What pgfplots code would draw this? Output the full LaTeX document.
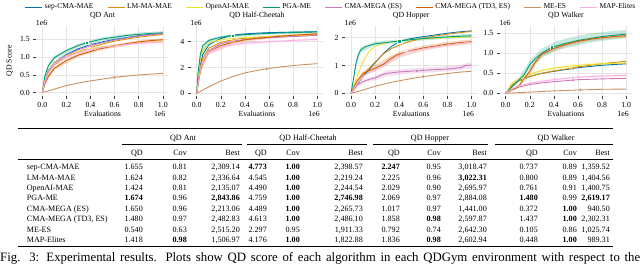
\documentclass[border=0pt]{standalone}
\usepackage{pgfplots}
\pgfplotsset{compat=1.18}
\usepackage{fontspec}
\setmainfont{Liberation Serif}
\newcommand\fs{\fontsize{7.8}{9}\selectfont}
\newcommand\lfs{\fontsize{7.5}{9}\selectfont}
\newcommand\tfs{\fontsize{8.1}{9}\selectfont}
\definecolor{cSep}{HTML}{0173B2}
\definecolor{cLM}{HTML}{DE8F05}
\definecolor{cOAI}{HTML}{ECE133}
\definecolor{cPGA}{HTML}{029E73}
\definecolor{cCME}{HTML}{CC78BC}
\definecolor{cTD3}{HTML}{D55E00}
\definecolor{cMEES}{HTML}{CA9161}
\definecolor{cMAP}{HTML}{FBAFE4}
\pgfplotsset{
 qd/.style={
  scale only axis, width=132.5pt, height=70pt, anchor=south west,
  xmin=-0.05, xmax=1.05, clip mode=individual,
  xtick={0,0.2,0.4,0.6,0.8,1}, xticklabels={0.0,0.2,0.4,0.6,0.8,1.0},
  scaled ticks=false,
  grid=major, grid style={color=black!10, line width=0.5pt},
  axis line style={draw=none},
  tick style={color=black!75, line width=0.5pt},
  tick align=outside, major tick length=3pt,
  xtick pos=left, ytick pos=left,
  tick label style={font=\fs},
  xlabel={Evaluations},
  xlabel style={font=\fs, at={(axis description cs:0.5,-0.26)}, anchor=center},
  title style={font=\fs, at={(axis description cs:0.5,1)}, anchor=base, yshift=2pt},
  every axis plot/.append style={line width=0.9pt, mark size=1.7pt},
 },
 sSep/.style={color=cSep, mark=*, mark options={fill=cSep, draw=white, line width=0.3pt}},
 sLM/.style={color=cLM, mark=diamond*, mark options={fill=cLM, draw=white, line width=0.3pt}},
 sOAI/.style={color=cOAI, mark=triangle*, mark options={fill=cOAI, draw=white, line width=0.3pt}},
 sPGA/.style={color=cPGA, mark=square*, mark options={fill=cPGA, draw=white, line width=0.3pt}},
 sCME/.style={color=cCME, mark=pentagon*, mark options={fill=cCME, draw=white, line width=0.3pt}},
 sTD3/.style={color=cTD3, mark=triangle*, mark options={fill=cTD3, draw=white, line width=0.3pt, rotate=180}},
 sMEES/.style={color=cMEES, mark=pentagon*, mark options={fill=cMEES, draw=white, line width=0.3pt, rotate=180}},
 sMAP/.style={color=cMAP, mark=*, mark options={fill=cMAP, draw=white, line width=0.3pt}},
 band/.style={draw=none, fill=#1, fill opacity=0.22, forget plot},
}
\newcommand{\tl}[2]{\node[anchor=base west] at (26.7pt,{264pt-#1pt}) {#2};}
\newcommand{\tc}[3]{\node[anchor=base east] at (#2pt,{264pt-#1pt}) {#3};}
\newcommand{\trowA}[8]{\tl{#1}{#2}\tc{#1}{143}{#3}\tc{#1}{187}{#4}\tc{#1}{240}{#5}\tc{#1}{267}{#6}\tc{#1}{300}{#7}\tc{#1}{363}{#8}}
\newcommand{\trowB}[7]{\tc{#1}{400}{#2}\tc{#1}{441}{#3}\tc{#1}{487}{#4}\tc{#1}{538}{#5}\tc{#1}{577}{#6}\tc{#1}{610}{#7}}
\newcommand{\hrl}[2]{\draw[line width=#2] (18pt,{264pt-#1pt}) -- (613pt,{264pt-#1pt});}
\newcommand{\crl}[3]{\draw[line width=0.45pt] (#2pt,{264pt-#1pt}) -- (#3pt,{264pt-#1pt});}
\begin{document}
\begin{tikzpicture}
\useasboundingbox (0,0) rectangle (640pt,264pt);

% ---------------- QD Ant
\begin{axis}[qd, at={(36.3pt,168pt)}, ymin=-0.092, ymax=1.863,
  ytick={0,0.5,1,1.5}, yticklabels={0.0,0.5,1.0,1.5},
  title={QD Ant}, ylabel={QD Score},
  ylabel style={font=\fs, at={(axis description cs:-0.2,0.5)}, anchor=center},
  legend columns=8,
  legend style={at={(axis description cs:2.225,1.271)}, anchor=center, draw=none, fill=none, font=\lfs, inner sep=0pt,
    /tikz/every even column/.append style={column sep=11.5pt}},
  legend cell align=left]
\addplot[band=cPGA] coordinates {(0,0)(0.05,0.8)(0.1,1.03)(0.3,1.37)(0.5,1.55)(0.8,1.68)(1.0,1.72)(1.0,1.63)(0.8,1.58)(0.5,1.45)(0.3,1.27)(0.1,0.93)(0.05,0.7)(0,0)} -- cycle;
\addplot[band=cMAP] coordinates {(0,0)(0.05,0.6)(0.1,0.85)(0.3,1.17)(0.5,1.32)(0.8,1.43)(1.0,1.47)(1.0,1.37)(0.8,1.33)(0.5,1.22)(0.3,1.07)(0.1,0.75)(0.05,0.5)(0,0)} -- cycle;
\addplot[band=cTD3] coordinates {(0,0)(0.05,0.5)(0.1,0.73)(0.3,1.1)(0.5,1.29)(0.8,1.46)(1.0,1.52)(1.0,1.44)(0.8,1.38)(0.5,1.2)(0.3,1.0)(0.1,0.63)(0.05,0.4)(0,0)} -- cycle;
\addplot[sSep, mark indices={7}] coordinates {(0,0)(0.02,0.35)(0.05,0.62)(0.1,0.85)(0.2,1.07)(0.3,1.23)(0.41,1.35)(0.5,1.42)(0.6,1.49)(0.7,1.54)(0.8,1.59)(0.9,1.63)(1.0,1.655)};
\addplot[sLM, mark indices={7}] coordinates {(0,0)(0.02,0.3)(0.05,0.55)(0.1,0.78)(0.2,1.0)(0.3,1.15)(0.43,1.29)(0.5,1.36)(0.6,1.44)(0.7,1.5)(0.8,1.55)(0.9,1.59)(1.0,1.624)};
\addplot[sOAI, mark indices={7}] coordinates {(0,0)(0.02,0.35)(0.05,0.6)(0.1,0.85)(0.2,1.05)(0.3,1.15)(0.4,1.23)(0.5,1.28)(0.6,1.32)(0.7,1.36)(0.8,1.39)(0.9,1.41)(1.0,1.424)};
\addplot[sPGA, mark indices={7}] coordinates {(0,0)(0.02,0.45)(0.05,0.75)(0.1,0.98)(0.2,1.18)(0.3,1.32)(0.37,1.40)(0.5,1.50)(0.6,1.55)(0.7,1.60)(0.8,1.63)(0.9,1.655)(1.0,1.674)};
\addplot[sCME, mark indices={7}] coordinates {(0,0)(0.02,0.32)(0.05,0.58)(0.1,0.82)(0.2,1.05)(0.3,1.2)(0.4,1.31)(0.5,1.4)(0.6,1.47)(0.7,1.53)(0.8,1.58)(0.9,1.62)(1.0,1.65)};
\addplot[sTD3, mark indices={7}] coordinates {(0,0)(0.02,0.25)(0.05,0.45)(0.1,0.68)(0.2,0.9)(0.3,1.05)(0.45,1.2)(0.5,1.24)(0.6,1.31)(0.7,1.37)(0.8,1.42)(0.9,1.455)(1.0,1.48)};
\addplot[sMEES, mark indices={7}] coordinates {(0,0)(0.1,0.1)(0.2,0.2)(0.3,0.27)(0.4,0.33)(0.5,0.38)(0.6,0.43)(0.7,0.465)(0.8,0.495)(0.9,0.52)(1.0,0.54)};
\addplot[sMAP, mark indices={7}] coordinates {(0,0)(0.02,0.3)(0.05,0.55)(0.1,0.8)(0.2,1.0)(0.3,1.12)(0.38,1.2)(0.5,1.27)(0.6,1.31)(0.7,1.35)(0.8,1.38)(0.9,1.40)(1.0,1.418)};
\legend{sep-CMA-MAE, LM-MA-MAE, OpenAI-MAE, PGA-ME, CMA-MEGA (ES), {CMA-MEGA (TD3, ES)}, ME-ES, MAP-Elites}
\node[font=\fs, anchor=base] at (axis description cs:0.04,1) {1e6};
\node[font=\fs, anchor=base east] at (axis description cs:1,-0.293) {1e6};
\end{axis}

% ---------------- QD Half-Cheetah
\begin{axis}[qd, at={(190.7pt,168pt)}, ymin=-0.209, ymax=5.217,
  ytick={0,2,4}, yticklabels={0,2,4}, title={QD Half-Cheetah}]
\addplot[band=cPGA] coordinates {(0,0)(0.03,3.3)(0.1,4.25)(0.3,4.6)(0.6,4.75)(1.0,4.85)(1.0,4.67)(0.6,4.55)(0.3,4.36)(0.1,3.95)(0.03,2.7)(0,0)} -- cycle;
\addplot[band=cTD3] coordinates {(0,0)(0.03,1.9)(0.1,3.4)(0.3,4.1)(0.6,4.45)(1.0,4.7)(1.0,4.52)(0.6,4.25)(0.3,3.8)(0.1,3.0)(0.03,1.5)(0,0)} -- cycle;
\addplot[band=cMAP] coordinates {(0,0)(0.03,2.0)(0.1,3.35)(0.3,3.9)(0.6,4.1)(1.0,4.26)(1.0,4.09)(0.6,3.9)(0.3,3.66)(0.1,3.05)(0.03,1.6)(0,0)} -- cycle;
\addplot[sSep, mark indices={7}] coordinates {(0,0)(0.01,0.9)(0.03,2.2)(0.05,3.0)(0.1,3.75)(0.2,4.25)(0.29,4.5)(0.4,4.6)(0.5,4.66)(0.6,4.7)(0.8,4.74)(1.0,4.773)};
\addplot[sLM, mark indices={7}] coordinates {(0,0)(0.01,0.8)(0.03,2.0)(0.05,2.7)(0.1,3.5)(0.2,3.95)(0.31,4.17)(0.4,4.27)(0.5,4.34)(0.6,4.4)(0.8,4.48)(1.0,4.545)};
\addplot[sOAI, mark indices={7}] coordinates {(0,0)(0.01,1.2)(0.03,2.7)(0.05,3.3)(0.1,3.9)(0.2,4.15)(0.28,4.24)(0.4,4.32)(0.5,4.36)(0.6,4.4)(0.8,4.45)(1.0,4.49)};
\addplot[sPGA, mark indices={7}] coordinates {(0,0)(0.01,1.5)(0.03,3.0)(0.05,3.7)(0.1,4.1)(0.2,4.35)(0.3,4.48)(0.4,4.55)(0.5,4.6)(0.6,4.65)(0.8,4.71)(1.0,4.759)};
\addplot[sCME, mark indices={7}] coordinates {(0,0)(0.01,0.7)(0.03,1.8)(0.05,2.5)(0.1,3.3)(0.2,3.85)(0.33,4.08)(0.4,4.17)(0.5,4.24)(0.6,4.3)(0.8,4.4)(1.0,4.489)};
\addplot[sTD3, mark indices={7}] coordinates {(0,0)(0.01,0.6)(0.03,1.7)(0.05,2.4)(0.1,3.2)(0.2,3.7)(0.3,3.95)(0.4,4.15)(0.5,4.26)(0.6,4.35)(0.8,4.5)(1.0,4.613)};
\addplot[sMEES, mark indices={7}] coordinates {(0,0)(0.1,0.5)(0.2,0.95)(0.3,1.3)(0.4,1.58)(0.5,1.77)(0.58,1.9)(0.7,2.05)(0.8,2.15)(0.9,2.23)(1.0,2.297)};
\addplot[sMAP, mark indices={7}] coordinates {(0,0)(0.01,0.7)(0.03,1.8)(0.05,2.5)(0.1,3.2)(0.2,3.6)(0.34,3.82)(0.4,3.88)(0.5,3.95)(0.6,4.0)(0.8,4.1)(1.0,4.176)};
\node[font=\fs, anchor=base] at (axis description cs:0.04,1) {1e6};
\node[font=\fs, anchor=base east] at (axis description cs:1,-0.293) {1e6};
\end{axis}

% ---------------- QD Hopper
\begin{axis}[qd, at={(345pt,168pt)}, ymin=-0.097, ymax=2.421,
  ytick={0,1,2}, yticklabels={0,1,2}, title={QD Hopper}]
\addplot[band=cCME] coordinates {(0,0)(0.1,0.48)(0.2,0.63)(0.3,0.82)(0.5,0.9)(0.7,0.95)(0.9,1.02)(1.0,1.12)(1.0,0.9)(0.9,0.83)(0.7,0.76)(0.5,0.71)(0.3,0.62)(0.2,0.47)(0.1,0.36)(0,0)} -- cycle;
\addplot[band=cTD3] coordinates {(0,0)(0.1,0.8)(0.2,1.02)(0.3,1.28)(0.4,1.5)(0.6,1.72)(0.8,1.85)(1.0,1.94)(1.0,1.77)(0.8,1.68)(0.6,1.54)(0.4,1.28)(0.3,1.02)(0.2,0.78)(0.1,0.64)(0,0)} -- cycle;
\addplot[band=cPGA] coordinates {(0,0)(0.04,1.2)(0.08,1.65)(0.2,1.86)(0.4,1.94)(0.6,2.04)(0.8,2.1)(1.0,2.14)(1.0,2.0)(0.8,1.96)(0.6,1.9)(0.4,1.82)(0.2,1.74)(0.08,1.45)(0.04,0.95)(0,0)} -- cycle;
\addplot[sSep, mark indices={8}] coordinates {(0,0)(0.05,0.3)(0.1,0.6)(0.15,0.85)(0.2,1.1)(0.27,1.44)(0.34,1.7)(0.41,1.88)(0.5,1.97)(0.6,2.04)(0.7,2.1)(0.8,2.16)(0.9,2.21)(1.0,2.247)};
\addplot[sLM, mark indices={8}] coordinates {(0,0)(0.05,0.35)(0.1,0.65)(0.15,0.9)(0.2,1.12)(0.27,1.42)(0.34,1.62)(0.42,1.77)(0.5,1.88)(0.6,1.98)(0.7,2.06)(0.8,2.13)(0.9,2.18)(1.0,2.225)};
\addplot[sOAI, mark indices={7}] coordinates {(0,0)(0.05,0.6)(0.1,1.15)(0.15,1.5)(0.2,1.7)(0.3,1.82)(0.38,1.87)(0.5,1.93)(0.6,1.96)(0.7,1.98)(0.8,2.0)(0.9,2.015)(1.0,2.029)};
\addplot[sPGA, mark indices={9}] coordinates {(0,0)(0.02,0.5)(0.04,1.05)(0.06,1.38)(0.08,1.56)(0.12,1.68)(0.2,1.78)(0.3,1.83)(0.4,1.88)(0.5,1.93)(0.6,1.97)(0.8,2.03)(1.0,2.069)};
\addplot[sCME, mark indices={9}] coordinates {(0,0)(0.05,0.3)(0.1,0.42)(0.15,0.5)(0.2,0.55)(0.25,0.66)(0.3,0.72)(0.4,0.77)(0.55,0.81)(0.65,0.84)(0.75,0.86)(0.85,0.89)(0.92,0.93)(0.95,1.0)(1.0,1.017)};
\addplot[sTD3, mark indices={9}] coordinates {(0,0)(0.05,0.45)(0.1,0.72)(0.15,0.82)(0.2,0.9)(0.27,1.05)(0.33,1.25)(0.38,1.38)(0.48,1.52)(0.6,1.63)(0.7,1.7)(0.8,1.77)(0.9,1.82)(1.0,1.858)};
\addplot[sMEES, mark indices={7}] coordinates {(0,0)(0.1,0.12)(0.2,0.25)(0.3,0.36)(0.4,0.45)(0.5,0.53)(0.6,0.6)(0.7,0.66)(0.8,0.71)(0.9,0.76)(1.0,0.792)};
\addplot[sMAP, mark indices={9}] coordinates {(0,0)(0.05,0.35)(0.1,0.6)(0.15,0.75)(0.2,0.85)(0.27,1.0)(0.33,1.2)(0.38,1.32)(0.46,1.48)(0.6,1.6)(0.7,1.67)(0.8,1.73)(0.9,1.79)(1.0,1.836)};
\node[font=\fs, anchor=base] at (axis description cs:0.04,1) {1e6};
\node[font=\fs, anchor=base east] at (axis description cs:1,-0.293) {1e6};
\end{axis}

% ---------------- QD Walker
\begin{axis}[qd, at={(499.7pt,168pt)}, ymin=-0.0675, ymax=1.6825,
  ytick={0,0.5,1,1.5}, yticklabels={0.0,0.5,1.0,1.5}, title={QD Walker}]
\addplot[band=cPGA] coordinates {(0,0)(0.1,0.34)(0.2,0.82)(0.3,1.12)(0.4,1.28)(0.5,1.37)(0.6,1.44)(0.7,1.49)(0.8,1.53)(0.9,1.56)(1.0,1.58)(1.0,1.38)(0.9,1.35)(0.8,1.31)(0.7,1.26)(0.6,1.2)(0.5,1.13)(0.4,1.05)(0.3,0.88)(0.2,0.62)(0.1,0.26)(0,0)} -- cycle;
\addplot[band=cTD3] coordinates {(0,0)(0.1,0.18)(0.2,0.62)(0.3,1.04)(0.5,1.27)(0.7,1.39)(1.0,1.48)(1.0,1.39)(0.7,1.31)(0.5,1.17)(0.3,0.92)(0.2,0.48)(0.1,0.12)(0,0)} -- cycle;
\addplot[band=cOAI] coordinates {(0,0)(0.1,0.38)(0.3,0.6)(0.5,0.71)(0.7,0.76)(1.0,0.8)(1.0,0.72)(0.7,0.68)(0.5,0.63)(0.3,0.54)(0.1,0.32)(0,0)} -- cycle;
\addplot[band=cMAP] coordinates {(0,0)(0.1,0.2)(0.3,0.33)(0.5,0.41)(0.7,0.45)(1.0,0.48)(1.0,0.42)(0.7,0.39)(0.5,0.35)(0.3,0.27)(0.1,0.16)(0,0)} -- cycle;
\addplot[sSep, mark indices={7}] coordinates {(0,0)(0.05,0.2)(0.1,0.3)(0.2,0.42)(0.3,0.5)(0.4,0.55)(0.56,0.62)(0.6,0.64)(0.7,0.67)(0.8,0.7)(0.9,0.72)(1.0,0.737)};
\addplot[sLM, mark indices={7}] coordinates {(0,0)(0.05,0.2)(0.1,0.3)(0.2,0.42)(0.3,0.5)(0.4,0.56)(0.55,0.63)(0.6,0.66)(0.7,0.7)(0.8,0.74)(0.9,0.77)(1.0,0.8)};
\addplot[sOAI, mark indices={7}] coordinates {(0,0)(0.05,0.25)(0.1,0.35)(0.2,0.48)(0.3,0.57)(0.4,0.63)(0.54,0.68)(0.6,0.7)(0.7,0.72)(0.8,0.74)(0.9,0.75)(1.0,0.761)};
\addplot[sPGA, mark indices={8}] coordinates {(0,0)(0.05,0.15)(0.1,0.3)(0.15,0.45)(0.2,0.72)(0.25,0.88)(0.3,1.0)(0.38,1.15)(0.5,1.25)(0.6,1.32)(0.7,1.37)(0.8,1.42)(0.9,1.45)(1.0,1.48)};
\addplot[sCME, mark indices={7}] coordinates {(0,0)(0.05,0.1)(0.1,0.15)(0.2,0.22)(0.3,0.26)(0.4,0.29)(0.56,0.33)(0.6,0.34)(0.7,0.35)(0.8,0.36)(0.9,0.368)(1.0,0.372)};
\addplot[sTD3, mark indices={4}] coordinates {(0,0)(0.05,0.08)(0.1,0.15)(0.15,0.35)(0.2,0.55)(0.25,0.8)(0.3,0.98)(0.4,1.12)(0.5,1.22)(0.6,1.3)(0.7,1.35)(0.8,1.39)(0.9,1.42)(1.0,1.437)};
\addplot[sMEES, mark indices={4}] coordinates {(0,0)(0.2,0.03)(0.4,0.06)(0.62,0.085)(0.8,0.1)(1.0,0.105)};
\addplot[sMAP, mark indices={7}] coordinates {(0,0)(0.05,0.1)(0.1,0.18)(0.2,0.25)(0.3,0.3)(0.4,0.34)(0.56,0.39)(0.6,0.4)(0.7,0.42)(0.8,0.43)(0.9,0.44)(1.0,0.448)};
\node[font=\fs, anchor=base] at (axis description cs:0.04,1) {1e6};
\node[font=\fs, anchor=base east] at (axis description cs:1,-0.293) {1e6};
\end{axis}

% ---------------- table
\hrl{128.3}{0.9pt}
\crl{144.3}{122}{242}\crl{144.3}{247}{367}\crl{144.3}{373}{488}\crl{144.3}{495}{613}
\hrl{159.7}{0.55pt}
\hrl{246.3}{0.9pt}
\begin{scope}[every node/.style={inner sep=0pt, font=\tfs}]
\node[anchor=base] at (183pt,{264pt-140.2pt}) {QD Ant};
\node[anchor=base] at (308pt,{264pt-140.2pt}) {QD Half-Cheetah};
\node[anchor=base] at (430pt,{264pt-140.2pt}) {QD Hopper};
\node[anchor=base] at (556pt,{264pt-140.2pt}) {QD Walker};
\trowA{155.8}{}{QD}{Cov}{Best}{QD}{Cov}{Best}
\trowB{155.8}{QD}{Cov}{Best}{QD}{Cov}{Best}
\trowA{169.8}{sep-CMA-MAE}{1.655}{0.81}{2,309.14}{\textbf{4.773}}{\textbf{1.00}}{2,398.57}
\trowB{169.8}{\textbf{2.247}}{0.95}{3,018.47}{0.737}{0.89}{1,359.52}
\trowA{180.2}{LM-MA-MAE}{1.624}{0.82}{2,336.64}{4.545}{\textbf{1.00}}{2,219.24}
\trowB{180.2}{2.225}{0.96}{\textbf{3,022.31}}{0.800}{0.89}{1,404.56}
\trowA{190.6}{OpenAI-MAE}{1.424}{0.81}{2,135.07}{4.490}{\textbf{1.00}}{2,244.54}
\trowB{190.6}{2.029}{0.90}{2,695.97}{0.761}{0.91}{1,400.75}
\trowA{201.0}{PGA-ME}{\textbf{1.674}}{0.96}{\textbf{2,843.86}}{4.759}{\textbf{1.00}}{\textbf{2,746.98}}
\trowB{201.0}{2.069}{0.97}{2,884.08}{\textbf{1.480}}{0.99}{\textbf{2,619.17}}
\trowA{211.4}{CMA-MEGA (ES)}{1.650}{0.96}{2,213.06}{4.489}{\textbf{1.00}}{2,265.73}
\trowB{211.4}{1.017}{0.97}{1,441.00}{0.372}{\textbf{1.00}}{940.50}
\trowA{221.8}{CMA-MEGA (TD3, ES)}{1.480}{0.97}{2,482.83}{4.613}{\textbf{1.00}}{2,486.10}
\trowB{221.8}{1.858}{\textbf{0.98}}{2,597.87}{1.437}{\textbf{1.00}}{2,302.31}
\trowA{232.2}{ME-ES}{0.540}{0.63}{2,515.20}{2.297}{0.95}{1,911.33}
\trowB{232.2}{0.792}{0.74}{2,642.30}{0.105}{0.86}{1,025.74}
\trowA{242.6}{MAP-Elites}{1.418}{\textbf{0.98}}{1,506.97}{4.176}{\textbf{1.00}}{1,822.88}
\trowB{242.6}{1.836}{\textbf{0.98}}{2,602.94}{0.448}{\textbf{1.00}}{989.31}
\end{scope}
\node[anchor=base west, inner sep=0pt] at (0pt,2.2pt) {\fontsize{12.8}{14}\selectfont\makebox[640pt][s]{Fig. 3: Experimental results. Plots show QD score of each algorithm in each QDGym environment with respect to the}};
\end{tikzpicture}
\end{document}
